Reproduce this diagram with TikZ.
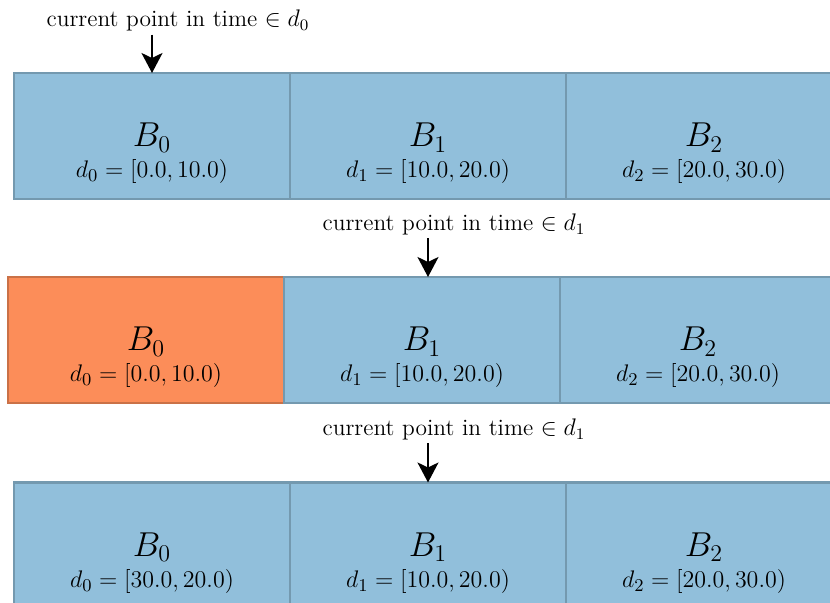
\documentclass[tikz,border=0pt]{standalone}
\usepackage{amsmath,amssymb}
\usepackage{xcolor}
\usepackage{tikz}
\usetikzlibrary{arrows.meta,positioning}

\definecolor{bktblue}{HTML}{91BFDB}
\definecolor{bktorange}{HTML}{FC8D59}

\begin{document}
\begin{tikzpicture}[
    x=0.5pt, y=-0.5pt,
    bucket/.style={
        rectangle, draw=#1!80!black, fill=#1, line width=1.2pt,
        minimum width=138pt, minimum height=63pt,
        inner sep=0pt, outer sep=0pt
    },
    bucket/.default=bktblue,
    bname/.style={anchor=base, inner sep=0pt, font=\fontsize{17}{20}\selectfont},
    brange/.style={anchor=base, inner sep=0pt, font=\fontsize{12.4}{14}\selectfont},
    pointer/.style={anchor=base, inner sep=1.5pt, font=\fontsize{11.7}{14}\selectfont},
    arrow/.style={-{Stealth[length=10pt,width=10.5pt,inset=2.5pt]}, line width=1pt}
]

\clip (0,0) rectangle (830,603);

% Row 1: buckets at the start
\node[bucket, anchor=north west] (b00) at (14,73) {};
\node[bucket, right=0pt of b00] (b01) {};
\node[bucket, right=0pt of b01] (b02) {};
\node[bname]  (n00) at ([yshift=-37pt]b00.north) {$B_0$};
\node[brange] (r00) at ([yshift=-52.5pt]b00.north) {$d_0 = [0.0, 10.0)$};
\node[bname]  (n01) at ([yshift=-37pt]b01.north) {$B_1$};
\node[brange] (r01) at ([yshift=-52.5pt]b01.north) {$d_1 = [10.0, 20.0)$};
\node[bname]  (n02) at ([yshift=-37pt]b02.north) {$B_2$};
\node[brange] (r02) at ([yshift=-52.5pt]b02.north) {$d_2 = [20.0, 30.0)$};

% Row 2: first bucket expired
\node[bucket=bktorange, anchor=north west] (b10) at (8,277) {};
\node[bucket, right=0pt of b10] (b11) {};
\node[bucket, right=0pt of b11] (b12) {};
\node[bname]  (n10) at ([yshift=-37pt]b10.north) {$B_0$};
\node[brange] (r10) at ([yshift=-52.5pt]b10.north) {$d_0 = [0.0, 10.0)$};
\node[bname]  (n11) at ([yshift=-37pt]b11.north) {$B_1$};
\node[brange] (r11) at ([yshift=-52.5pt]b11.north) {$d_1 = [10.0, 20.0)$};
\node[bname]  (n12) at ([yshift=-37pt]b12.north) {$B_2$};
\node[brange] (r12) at ([yshift=-52.5pt]b12.north) {$d_2 = [20.0, 30.0)$};

% Row 3: first bucket reused
\node[bucket, anchor=north west] (b20) at (14,482.5) {};
\node[bucket, right=0pt of b20] (b21) {};
\node[bucket, right=0pt of b21] (b22) {};
\node[bname]  (n20) at ([yshift=-37pt]b20.north) {$B_0$};
\node[brange] (r20) at ([yshift=-52.5pt]b20.north) {$d_0 = [30.0, 20.0)$};
\node[bname]  (n21) at ([yshift=-37pt]b21.north) {$B_1$};
\node[brange] (r21) at ([yshift=-52.5pt]b21.north) {$d_1 = [10.0, 20.0)$};
\node[bname]  (n22) at ([yshift=-37pt]b22.north) {$B_2$};
\node[brange] (r22) at ([yshift=-52.5pt]b22.north) {$d_2 = [20.0, 30.0)$};

% Pointers
\node[pointer] (p0) at (152,26.7) {current point in time\rlap{ $\in d_0$}};
\node[pointer] (p1) at (428,230.5) {current point in time\rlap{ $\in d_1$}};
\node[pointer] (p2) at (428,435.5) {current point in time\rlap{ $\in d_1$}};

% Arrows
\draw[arrow] (p0.south) -- (p0.south |- b00.north);
\draw[arrow] (p1.south) -- (p1.south |- b11.north);
\draw[arrow] (p2.south) -- (p2.south |- b21.north);

\end{tikzpicture}
\end{document}
